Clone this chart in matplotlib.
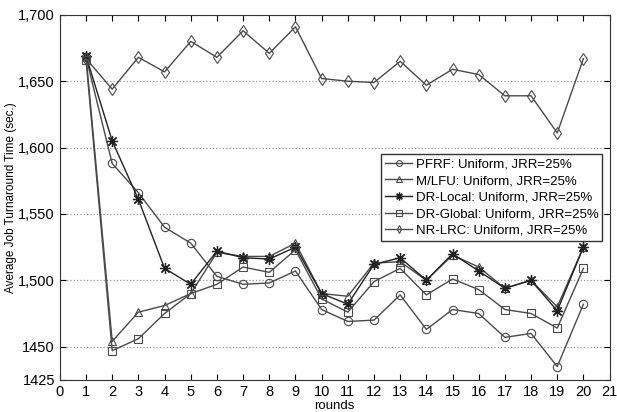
import matplotlib.pyplot as plt

plt.rcParams['font.family'] = ['Liberation Sans', 'DejaVu Sans']

rounds = list(range(1, 21))

pfrf = [1668, 1588, 1566, 1540, 1528, 1503, 1497, 1498, 1507, 1478,
        1469, 1470, 1489, 1463, 1478, 1475, 1457, 1460, 1435, 1482]
mlfu = [1669, 1454, 1476, 1481, 1490, 1521, 1518, 1518, 1528, 1490,
        1488, 1513, 1514, 1500, 1519, 1510, 1494, 1500, 1480, 1525]
dr_local = [1669, 1605, 1561, 1509, 1497, 1522, 1517, 1516, 1525, 1490,
            1482, 1512, 1517, 1500, 1520, 1507, 1494, 1500, 1477, 1525]
dr_global = [1666, 1447, 1456, 1475, 1490, 1497, 1510, 1506, 1523, 1486,
             1476, 1499, 1509, 1489, 1501, 1493, 1478, 1475, 1464, 1509]
nr_lrc = [1667, 1644, 1668, 1657, 1680, 1668, 1688, 1671, 1691, 1652,
          1650, 1649, 1665, 1647, 1659, 1655, 1639, 1639, 1611, 1667]

labels = ['PFRF: Uniform, JRR=25%', 'M/LFU: Uniform, JRR=25%',
          'DR-Local: Uniform, JRR=25%', 'DR-Global: Uniform, JRR=25%',
          'NR-LRC: Uniform, JRR=25%']

ytick_vals = [1425, 1450, 1500, 1550, 1600, 1650, 1700]
ytick_labels = ['1425', '1450', '1,500', '1,550', '1,600', '1,650', '1,700']

fig = plt.figure(figsize=(6.17, 4.12), dpi=100)
ax = fig.add_axes([0.097, 0.078, 0.891, 0.886])

line_color = '#4a4a4a'
ax.plot(rounds, pfrf, '-o', color=line_color, lw=1, ms=6, mfc='none', mew=0.8, label=labels[0])
ax.plot(rounds, mlfu, '-^', color=line_color, lw=1, ms=6, mfc='none', mew=0.8, label=labels[1])
ax.plot(rounds, dr_local, '-', marker=(8, 2, 0), color='#222222', lw=1, ms=8, mew=0.9, label=labels[2])
ax.plot(rounds, dr_global, '-s', color=line_color, lw=1, ms=5.5, mfc='none', mew=0.8, label=labels[3])
ax.plot(rounds, nr_lrc, '-d', color=line_color, lw=1, ms=6, mfc='none', mew=0.8, label=labels[4])

ax.set_xlim(0, 21)
ax.set_ylim(1425, 1700)
ax.set_xticks(range(0, 22))
ax.set_yticks(ytick_vals)
ax.set_yticklabels(ytick_labels)
ax.tick_params(direction='in', top=True, right=True, labelsize=10.5, length=4)
ax.grid(True, axis='y', linestyle=':', color='#999999', lw=0.9)

ax.set_xlabel('rounds', fontsize=9.5, labelpad=1)
ax.set_ylabel('Average Job Turnaround Time (sec.)', fontsize=8.5)
ax.yaxis.set_label_coords(-0.078, 0.5)

ax.legend(loc='upper right', bbox_to_anchor=(0.999, 0.636), fontsize=9.5,
          fancybox=False, edgecolor='#333333', framealpha=1, markerscale=0.7,
          handlelength=2.0, borderpad=0.3, labelspacing=0.33, handletextpad=0.3)

for s in ax.spines.values():
    s.set_color('#333333')

fig.savefig('out.png', dpi=100)
